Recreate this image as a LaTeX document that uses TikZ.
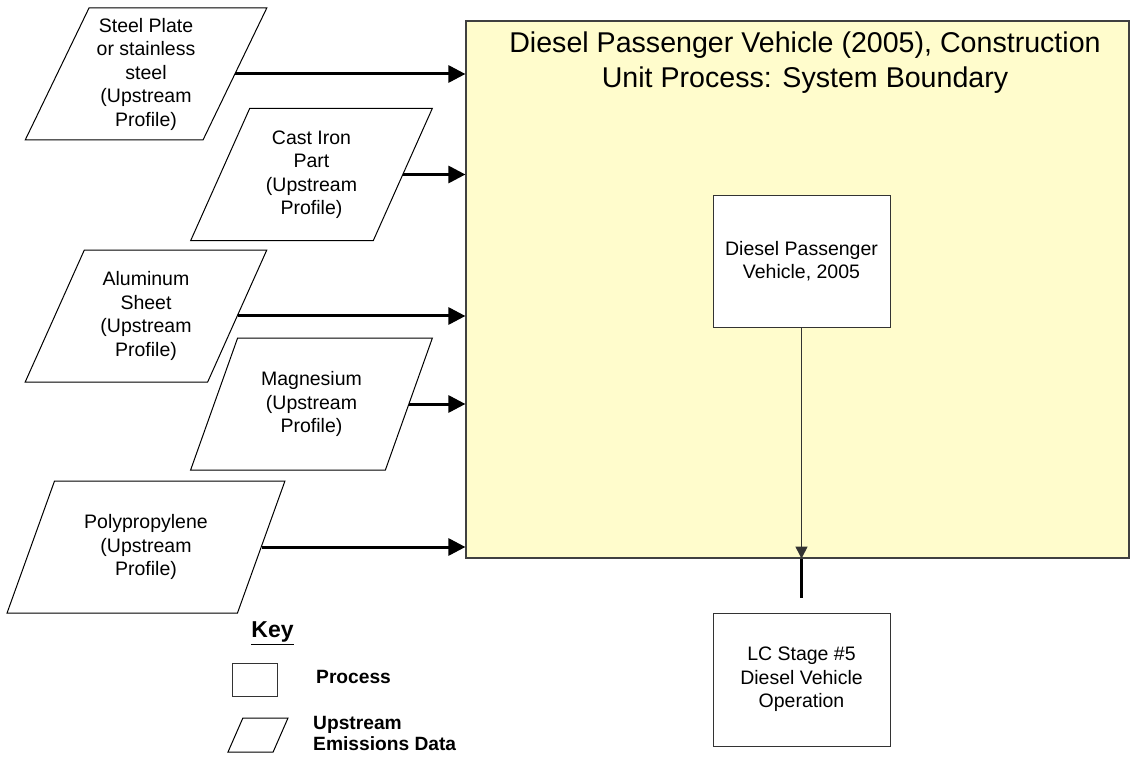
\documentclass[tikz,border=0pt]{standalone}
\usepackage{fontspec}
\setsansfont{Liberation Sans}
\usetikzlibrary{arrows.meta,shapes.geometric}

\begin{document}
\begin{tikzpicture}[
    x=1pt, y=-1pt,
    font=\sffamily,
    boundary/.style={draw=black!75,line width=1.2pt,fill=yellow!20,
      minimum width=663pt,minimum height=537pt},
    process/.style={draw=black!80,line width=1pt,fill=white,
      minimum width=177pt,minimum height=132pt,align=center,
      font=\sffamily\fontsize{19.5}{23.5}\selectfont},
    upstream/.style={trapezium,trapezium left angle=63.8,
      trapezium right angle=116.2,trapezium stretches=true,
      draw=black,line width=1pt,fill=white,minimum width=242pt,
      minimum height=132pt,inner sep=0pt,align=center,
      font=\sffamily\fontsize{19.5}{23.5}\selectfont},
    legend/.style={inner sep=0pt,align=left,
      font=\sffamily\bfseries\fontsize{19.2}{21}\selectfont},
    feed/.style={black,line width=3pt,-{Triangle[length=17pt,width=17pt]}},
    flow/.style={black!80,line width=1pt,-{Triangle[length=12pt,width=12pt]}},
  ]
  \useasboundingbox (0,0) rectangle (1130,757);

  % System boundary
  \node[boundary] (sys) at (797.5,289.5) {};
  \node[font=\sffamily\fontsize{28.6}{35}\selectfont,align=center] (title)
    at (805,62.5) {Diesel Passenger Vehicle (2005), Construction\\
      Unit Process: System Boundary};

  % Processes
  \node[process] (dpv) at (801.5,261) {Diesel Passenger\\Vehicle, 2005};
  \node[process,minimum height=133pt] (lc) at (801.5,679.5)
    {LC Stage \#5\\Diesel Vehicle\\Operation};

  % Upstream profiles
  \node[upstream] (steel) at (146,74)
    {Steel Plate\\or stainless\\steel\\(Upstream\\Profile)};
  \node[upstream] (cast) at (311.5,174.5)
    {Cast Iron\\Part\\(Upstream\\Profile)};
  \node[upstream] (alu) at (146,316)
    {Aluminum\\Sheet\\(Upstream\\Profile)};
  \node[upstream] (mag) at (311.5,404)
    {Magnesium\\(Upstream\\Profile)};
  \node[upstream,minimum width=278pt] (poly) at (146,547)
    {Polypropylene\\(Upstream\\Profile)};

  % Inputs into the boundary
  \foreach \src in {steel,cast,alu,mag,poly}
    \draw[feed] (\src.east) -- (\src.east -| sys.west);

  % Output to the use stage
  \coordinate (stub) at ([yshift=15pt] lc.north);
  \draw[flow] (dpv.south) -- (dpv.south |- sys.south);
  \draw[black,line width=3pt] (dpv.south |- sys.south) -- (stub);

  % Key
  \node[font=\sffamily\bfseries\fontsize{23}{26}\selectfont] (key)
    at (272.5,633) {\underline{Key}};
  \node[draw=black!80,line width=1pt,minimum width=45pt,
    minimum height=33pt] (keyproc) at (254.5,679.5) {};
  \node[legend,anchor=west] (keyproctext) at (316,677) {Process};
  \node[upstream,inner sep=2pt,minimum width=60pt,minimum height=34pt]
    (keyup) at (258,735) {};
  \node[legend,anchor=west] (keyuptext) at (313,733.5)
    {Upstream\\Emissions Data};
\end{tikzpicture}
\end{document}
